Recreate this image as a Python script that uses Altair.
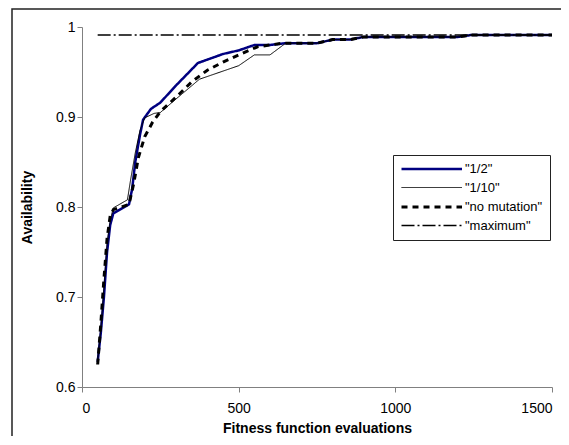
import altair as alt
import pandas as pd

series_names = ['"1/2"', '"1/10"', '"no mutation"', '"maximum"']

half_x = [50, 60, 70, 80, 90, 100, 150, 160, 170, 185, 195, 220, 250, 300, 370, 450, 500, 550, 600, 650, 750, 800, 855, 900, 1200, 1240, 1500]
half_y = [0.628, 0.66, 0.70, 0.75, 0.78, 0.793, 0.803, 0.82, 0.85, 0.88, 0.897, 0.909, 0.916, 0.935, 0.96, 0.970, 0.974, 0.980, 0.980, 0.982, 0.982, 0.986, 0.986, 0.989, 0.989, 0.991, 0.991]

tenth_x = [50, 60, 70, 80, 90, 100, 145, 155, 170, 185, 200, 230, 250, 300, 375, 500, 550, 600, 650, 750, 800, 855, 900, 1200, 1240, 1500]
tenth_y = [0.63, 0.665, 0.71, 0.76, 0.785, 0.799, 0.808, 0.83, 0.86, 0.885, 0.899, 0.904, 0.905, 0.92, 0.942, 0.957, 0.969, 0.969, 0.982, 0.982, 0.986, 0.986, 0.989, 0.989, 0.991, 0.991]

nomut_x = [50, 60, 70, 80, 90, 100, 150, 165, 180, 200, 225, 250, 300, 350, 400, 450, 500, 560, 640, 750, 800, 855, 900, 1200, 1240, 1500]
nomut_y = [0.625, 0.67, 0.72, 0.765, 0.79, 0.797, 0.803, 0.826, 0.855, 0.878, 0.894, 0.906, 0.922, 0.939, 0.952, 0.961, 0.969, 0.978, 0.982, 0.982, 0.986, 0.986, 0.989, 0.989, 0.991, 0.991]

max_x = [50, 1500]
max_y = [0.991, 0.991]

x_ticks = [0, 500, 1000, 1500]
y_ticks = [0.6, 0.7, 0.8, 0.9, 1.0]

rows = []
for name, xs, ys in zip(series_names, [half_x, tenth_x, nomut_x, max_x], [half_y, tenth_y, nomut_y, max_y]):
    for xv, yv in zip(xs, ys):
        rows.append({"series": name, "evals": xv, "avail": yv})
df = pd.DataFrame(rows)

FONT = "Liberation Sans"

color_scale = alt.Scale(domain=series_names, range=["#000080", "#000000", "#000000", "#000000"])
dash_scale = alt.Scale(domain=series_names, range=[[1, 0], [1, 0], [6, 5], [13, 3, 2, 3]])
width_scale = alt.Scale(type="ordinal", domain=series_names, range=[2.5, 1, 3, 1.5])

x_enc = alt.X("evals:Q", scale=alt.Scale(domain=[0, 1500], nice=False),
              axis=alt.Axis(values=x_ticks, format="d", title="Fitness function evaluations",
                            labelPadding=9, titlePadding=6))
y_enc = alt.Y("avail:Q", scale=alt.Scale(domain=[0.6, 1.0], nice=False, zero=False),
              axis=alt.Axis(values=y_ticks, format=".1~f", title="Availability", titlePadding=21))

legend = alt.Legend(title=None)

def series_layer(name):
    return alt.Chart(df).transform_filter(alt.datum.series == name).mark_line(strokeCap="butt").encode(
        x=x_enc,
        y=y_enc,
        color=alt.Color("series:N", scale=color_scale, legend=legend),
        strokeDash=alt.StrokeDash("series:N", scale=dash_scale, legend=legend),
        strokeWidth=alt.StrokeWidth("series:N", scale=width_scale, legend=legend),
    )

frame = alt.Chart(pd.DataFrame({"k": [0]})).mark_rect(fillOpacity=0, stroke="#222222", strokeWidth=1.5).encode(
    x=alt.value(-70), x2=alt.value(640), y=alt.value(-18), y2=alt.value(600)
)

chart = alt.layer(frame, *[series_layer(n) for n in series_names]).properties(
    width=470, height=360,
    autosize=alt.AutoSizeParams(type="none"),
    padding={"left": 74, "top": 19, "right": 9, "bottom": 49},
    background="white",
).configure_view(stroke=None).configure_axis(
    grid=False, domainColor="#808080", tickColor="#808080", tickSize=5,
    labelColor="#000000", labelFont=FONT, labelFontSize=14,
    titleColor="#000000", titleFont=FONT, titleFontSize=14, titleFontWeight="bold",
).configure_legend(
    orient="none", legendX=311, legendY=128,
    strokeColor="#222222", fillColor="#ffffff", padding=7,
    symbolType="M-1,0H10", symbolSize=121, labelOffset=51,
    labelFont=FONT, labelFontSize=13, labelColor="#000000", rowPadding=5,
)

chart.save("out.html", embed_options={"renderer": "svg", "actions": False})
